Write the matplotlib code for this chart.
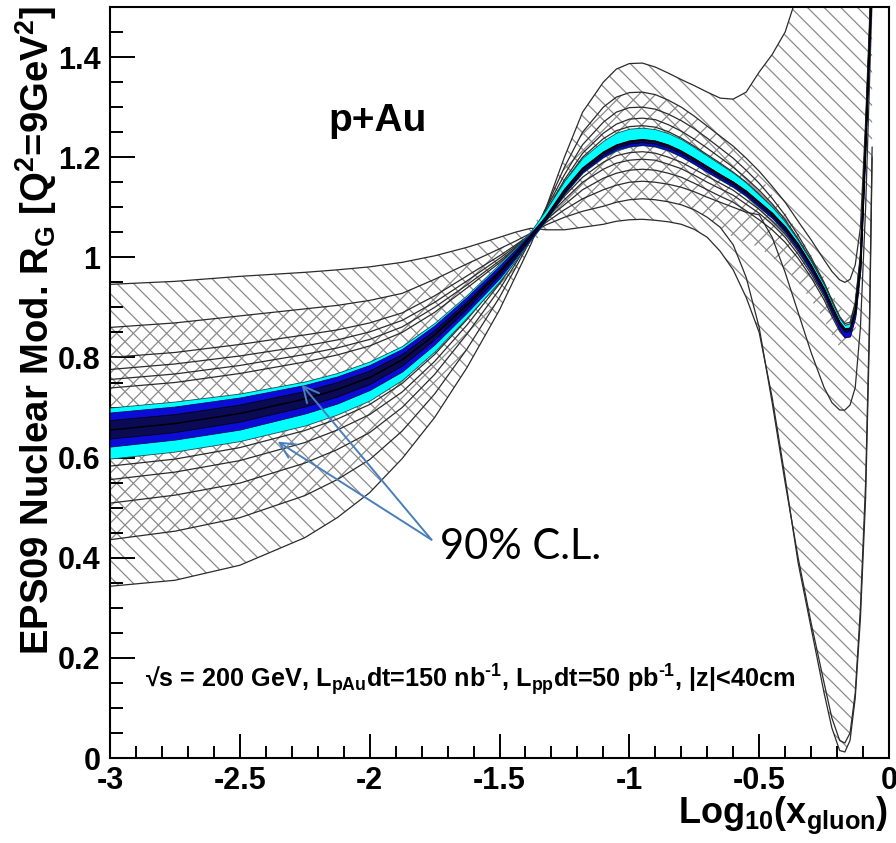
import numpy as np
import matplotlib
matplotlib.use("Agg")
import matplotlib.pyplot as plt
from matplotlib.ticker import MultipleLocator, FormatStrFormatter

# ---------------- data ----------------
# log10(x_gluon) sample points: 12 on the shadowing side, 30 on the antishadowing/EMC side
x_log10 = [-3.0, -2.75, -2.5, -2.25, -2.125, -2.0, -1.875, -1.75, -1.625, -1.5, -1.44, -1.38,
           -1.32, -1.25, -1.18, -1.1, -1.05, -1.0, -0.95, -0.9, -0.85, -0.8,
           -0.75, -0.7, -0.65, -0.6, -0.55, -0.5, -0.45, -0.4, -0.35, -0.3,
           -0.25, -0.22, -0.19, -0.17, -0.15, -0.13, -0.11, -0.09, -0.075, -0.065]

# EPS09 error-set curves (black lines)
eps09_set01 = [0.946, 0.952, 0.962, 0.970, 0.975, 0.981, 0.990, 1.003, 1.020, 1.040, 1.050, 1.058,
               1.055, 1.055, 1.060, 1.066, 1.072, 1.075, 1.076, 1.074, 1.071, 1.066,
               1.056, 1.040, 1.012, 0.975, 0.920, 0.850, 0.720, 0.560, 0.390, 0.260,
               0.130, 0.060, 0.015, 0.012, 0.035, 0.120, 0.280, 0.520, 0.850, 1.200]
eps09_set02 = [0.860, 0.869, 0.883, 0.897, 0.904, 0.914, 0.928, 0.956, 0.987, 1.017, 1.032, 1.048,
               1.065, 1.080, 1.092, 1.102, 1.110, 1.115, 1.117, 1.115, 1.111, 1.105,
               1.095, 1.080, 1.060, 1.025, 0.960, 0.860, 0.710, 0.550, 0.400, 0.270,
               0.150, 0.080, 0.035, 0.030, 0.050, 0.130, 0.300, 0.550, 0.880, 1.220]
eps09_set03 = [0.800, 0.810, 0.826, 0.845, 0.855, 0.869, 0.889, 0.923, 0.963, 1.003, 1.024, 1.046,
               1.070, 1.095, 1.117, 1.135, 1.144, 1.150, 1.152, 1.150, 1.146, 1.140,
               1.131, 1.120, 1.110, 1.100, 1.090, 1.085, 1.040, 0.970, 0.890, 0.810,
               0.740, 0.710, 0.695, 0.695, 0.705, 0.740, 0.860, 1.100, 1.350, 1.520]
eps09_set04 = [0.776, 0.787, 0.803, 0.823, 0.835, 0.851, 0.874, 0.910, 0.953, 0.998, 1.021, 1.046,
               1.075, 1.105, 1.135, 1.158, 1.168, 1.174, 1.176, 1.174, 1.168, 1.160,
               1.148, 1.135, 1.122, 1.110, 1.093, 1.075, 1.055, 1.030, 0.998, 0.960,
               0.915, 0.882, 0.852, 0.840, 0.843, 0.880, 0.975, 1.225, 1.430, 1.570]
eps09_set05 = [0.756, 0.767, 0.784, 0.806, 0.819, 0.836, 0.861, 0.900, 0.945, 0.993, 1.018, 1.045,
               1.078, 1.115, 1.150, 1.176, 1.188, 1.194, 1.196, 1.194, 1.186, 1.177,
               1.164, 1.150, 1.137, 1.124, 1.106, 1.088, 1.066, 1.040, 1.006, 0.967,
               0.922, 0.888, 0.857, 0.845, 0.848, 0.886, 0.980, 1.230, 1.435, 1.575]
eps09_set06 = [0.739, 0.750, 0.768, 0.791, 0.805, 0.823, 0.850, 0.890, 0.939, 0.989, 1.016, 1.045,
               1.080, 1.122, 1.160, 1.190, 1.203, 1.209, 1.211, 1.208, 1.200, 1.190,
               1.176, 1.162, 1.148, 1.134, 1.115, 1.096, 1.073, 1.047, 1.012, 0.972,
               0.927, 0.893, 0.861, 0.849, 0.852, 0.890, 0.985, 1.235, 1.438, 1.578]
eps09_set07 = [0.583, 0.597, 0.620, 0.654, 0.677, 0.706, 0.748, 0.806, 0.876, 0.953, 0.996, 1.040,
               1.090, 1.150, 1.200, 1.237, 1.253, 1.261, 1.263, 1.260, 1.251, 1.238,
               1.222, 1.205, 1.188, 1.170, 1.150, 1.126, 1.100, 1.070, 1.032, 0.990,
               0.942, 0.907, 0.874, 0.860, 0.862, 0.900, 0.995, 1.245, 1.445, 1.585]
eps09_set08 = [0.556, 0.571, 0.594, 0.630, 0.655, 0.686, 0.731, 0.792, 0.865, 0.947, 0.992, 1.039,
               1.092, 1.155, 1.208, 1.248, 1.266, 1.276, 1.278, 1.275, 1.265, 1.252,
               1.236, 1.218, 1.199, 1.180, 1.158, 1.134, 1.107, 1.075, 1.037, 0.995,
               0.946, 0.911, 0.878, 0.864, 0.866, 0.905, 1.000, 1.250, 1.450, 1.590]
eps09_set09 = [0.509, 0.525, 0.549, 0.589, 0.616, 0.650, 0.700, 0.766, 0.847, 0.936, 0.986, 1.038,
               1.097, 1.165, 1.225, 1.270, 1.290, 1.299, 1.300, 1.296, 1.286, 1.273,
               1.257, 1.238, 1.218, 1.198, 1.174, 1.148, 1.118, 1.084, 1.044, 1.000,
               0.950, 0.915, 0.882, 0.868, 0.870, 0.910, 1.005, 1.255, 1.455, 1.595]
eps09_set10 = [0.436, 0.453, 0.480, 0.524, 0.556, 0.596, 0.653, 0.727, 0.817, 0.920, 0.977, 1.035,
               1.100, 1.180, 1.250, 1.300, 1.320, 1.329, 1.330, 1.325, 1.314, 1.300,
               1.282, 1.262, 1.242, 1.222, 1.198, 1.172, 1.142, 1.110, 1.072, 1.035,
               0.995, 0.972, 0.955, 0.950, 0.956, 0.985, 1.060, 1.270, 1.470, 1.620]
eps09_set11 = [0.343, 0.355, 0.385, 0.440, 0.480, 0.530, 0.598, 0.680, 0.780, 0.895, 0.960, 1.025,
               1.100, 1.200, 1.290, 1.350, 1.376, 1.387, 1.388, 1.380, 1.368, 1.355,
               1.343, 1.330, 1.318, 1.316, 1.330, 1.370, 1.405, 1.450, 1.530, 1.620,
               1.750, 1.820, 1.900, 1.950, 2.000, 2.050, 2.100, 2.200, 2.300, 2.400]
eps09_central = [0.655, 0.668, 0.688, 0.717, 0.736, 0.760, 0.795, 0.845, 0.905, 0.970, 1.005, 1.042,
                 1.082, 1.135, 1.178, 1.210, 1.224, 1.232, 1.235, 1.232, 1.224, 1.212,
                 1.197, 1.181, 1.165, 1.150, 1.132, 1.110, 1.088, 1.060, 1.024, 0.982,
                 0.935, 0.900, 0.868, 0.855, 0.857, 0.895, 0.990, 1.240, 1.440, 1.580]

# inner (cross-hatched) band
inner_hi = [0.860, 0.869, 0.883, 0.897, 0.904, 0.914, 0.928, 0.956, 0.987, 1.017, 1.032, 1.048,
            1.100, 1.180, 1.250, 1.300, 1.320, 1.329, 1.330, 1.325, 1.314, 1.300,
            1.282, 1.262, 1.242, 1.222, 1.198, 1.165, 1.125, 1.090, 1.050, 1.005,
            0.960, 0.930, 0.900, 0.890, 0.890, 0.925, 1.020, 1.265, 1.465, 1.605]
inner_lo = [0.436, 0.453, 0.480, 0.524, 0.556, 0.596, 0.653, 0.727, 0.817, 0.920, 0.977, 1.035,
            1.065, 1.080, 1.092, 1.102, 1.110, 1.115, 1.117, 1.115, 1.111, 1.105,
            1.095, 1.080, 1.060, 1.040, 1.030, 1.020, 1.000, 0.980, 0.950, 0.915,
            0.875, 0.845, 0.820, 0.810, 0.815, 0.850, 0.945, 1.190, 1.400, 1.550]

# projected 90% C.L. bands
cyan_hi = [0.700, 0.712, 0.728, 0.752, 0.769, 0.792, 0.823, 0.869, 0.925, 0.987, 1.018, 1.052,
           1.096, 1.153, 1.199, 1.233, 1.249, 1.257, 1.259, 1.256, 1.248, 1.236,
           1.220, 1.203, 1.186, 1.169, 1.149, 1.125, 1.101, 1.071, 1.034, 0.992,
           0.945, 0.910, 0.878, 0.865, 0.868, 0.907, 1.005, 1.260, 1.460, 1.600]
cyan_lo = [0.598, 0.612, 0.633, 0.664, 0.686, 0.714, 0.755, 0.812, 0.880, 0.952, 0.993, 1.034,
           1.074, 1.127, 1.169, 1.200, 1.213, 1.221, 1.224, 1.221, 1.213, 1.201,
           1.186, 1.170, 1.155, 1.140, 1.122, 1.100, 1.078, 1.050, 1.014, 0.972,
           0.925, 0.890, 0.858, 0.845, 0.847, 0.885, 0.978, 1.225, 1.425, 1.565]
blue_hi = [0.690, 0.702, 0.720, 0.745, 0.762, 0.785, 0.817, 0.864, 0.921, 0.983, 1.015, 1.049,
           1.083, 1.136, 1.179, 1.211, 1.225, 1.233, 1.236, 1.233, 1.225, 1.213,
           1.198, 1.182, 1.166, 1.151, 1.133, 1.111, 1.089, 1.062, 1.027, 0.985,
           0.938, 0.903, 0.871, 0.858, 0.860, 0.898, 0.993, 1.243, 1.443, 1.583]
blue_lo = [0.622, 0.636, 0.656, 0.688, 0.708, 0.735, 0.772, 0.826, 0.890, 0.958, 0.997, 1.036,
           1.076, 1.128, 1.170, 1.201, 1.215, 1.222, 1.225, 1.222, 1.214, 1.202,
           1.187, 1.171, 1.156, 1.141, 1.123, 1.101, 1.079, 1.051, 1.015, 0.973,
           0.926, 0.889, 0.855, 0.840, 0.842, 0.880, 0.975, 1.222, 1.422, 1.562]
core_hi = [0.675, 0.687, 0.706, 0.733, 0.751, 0.774, 0.807, 0.855, 0.913, 0.976, 1.010, 1.046,
           1.082, 1.135, 1.178, 1.210, 1.224, 1.232, 1.235, 1.232, 1.224, 1.212,
           1.197, 1.181, 1.165, 1.150, 1.132, 1.110, 1.088, 1.060, 1.027, 0.985,
           0.938, 0.903, 0.871, 0.858, 0.860, 0.898, 0.994, 1.245, 1.445, 1.585]
core_lo = [0.638, 0.651, 0.672, 0.702, 0.722, 0.747, 0.784, 0.836, 0.898, 0.965, 1.001, 1.039,
           1.077, 1.130, 1.173, 1.205, 1.219, 1.227, 1.230, 1.227, 1.219, 1.207,
           1.192, 1.176, 1.160, 1.145, 1.127, 1.105, 1.083, 1.055, 1.021, 0.979,
           0.932, 0.896, 0.864, 0.851, 0.853, 0.891, 0.985, 1.235, 1.435, 1.575]

# annotation arrow tips / start (data coordinates)
cl_arrow_tips = [(-2.262, 0.746), (-2.354, 0.632)]
cl_arrow_start = (-1.762, 0.436)

x_ticks = [-3, -2.5, -2, -1.5, -1, -0.5, 0]
y_ticks = [0, 0.2, 0.4, 0.6, 0.8, 1.0, 1.2, 1.4]

# ---------------- style ----------------
plt.rcParams['font.family'] = ['Liberation Sans', 'DejaVu Sans']
plt.rcParams['font.weight'] = 'bold'
plt.rcParams['mathtext.fontset'] = 'custom'
plt.rcParams['mathtext.rm'] = 'Liberation Sans:bold'
plt.rcParams['mathtext.it'] = 'Liberation Sans:bold'
plt.rcParams['mathtext.bf'] = 'Liberation Sans:bold'
plt.rcParams['mathtext.sf'] = 'Liberation Sans:bold'
plt.rcParams['axes.unicode_minus'] = False
plt.rcParams['hatch.linewidth'] = 0.9
plt.rcParams['hatch.color'] = '#8a8a8a'

fig = plt.figure(figsize=(8.96, 8.43), dpi=100)
ax = fig.add_axes([110 / 896, 85 / 843, 779 / 896, 751 / 843])

X = np.array(x_log10)
curves = np.array([eps09_set01, eps09_set02, eps09_set03, eps09_set04, eps09_set05,
                   eps09_set06, eps09_set07, eps09_set08, eps09_set09, eps09_set10,
                   eps09_set11])
outer_hi = curves.max(axis=0)
outer_lo = curves.min(axis=0)

ax.fill_between(X, outer_lo, outer_hi, facecolor='none', edgecolor='#8a8a8a',
                hatch='\\\\', linewidth=0, zorder=1)
ax.fill_between(X, inner_lo, inner_hi, facecolor='none', edgecolor='#8a8a8a',
                hatch='//', linewidth=0, zorder=1)

for c in curves:
    ax.plot(X, c, color='#2b2b2b', lw=0.9, zorder=2)
ax.plot(X, eps09_central, color='#2b2b2b', lw=0.9, zorder=2)

ax.fill_between(X, cyan_lo, cyan_hi, facecolor='#00ffff', edgecolor='#1a4d4d',
                linewidth=0.6, zorder=3)
ax.fill_between(X, blue_lo, blue_hi, facecolor='#0c0cd8', edgecolor='#050560',
                linewidth=0.6, zorder=4)
ax.fill_between(X, core_lo, core_hi, facecolor='#0a0a55', edgecolor='#000000',
                linewidth=0.5, zorder=5)
ax.plot(X, eps09_central, color='#000000', lw=1.0, zorder=6)

ax.set_xlim(-3, 0)
ax.set_ylim(0, 1.5)

ax.xaxis.set_minor_locator(MultipleLocator(0.1))
ax.yaxis.set_minor_locator(MultipleLocator(0.05))
ax.set_xticks(x_ticks)
ax.set_yticks(y_ticks)
ax.xaxis.set_major_formatter(FormatStrFormatter('%g'))
ax.yaxis.set_major_formatter(FormatStrFormatter('%g'))

ax.tick_params(which='both', direction='in', top=False, right=False, width=1.4,
               labelsize=22)
ax.tick_params(axis='y', which='major', length=18, pad=7)
ax.tick_params(axis='y', which='minor', length=9.5)
ax.tick_params(axis='x', which='major', length=17, pad=6)
ax.tick_params(axis='x', which='minor', length=8.5)
for lab in ax.get_xticklabels() + ax.get_yticklabels():
    lab.set_fontweight('bold')
for sp in ax.spines.values():
    sp.set_linewidth(1.5)

# axis titles (ROOT style, aligned at axis ends)
fig.text(36 / 896, 1 - 6 / 843, r'EPS09 Nuclear Mod. R$_{G}$ [Q$^{2}$=9GeV$^{2}$]',
         rotation=90, ha='center', va='top', fontsize=27.5, fontweight='bold')
fig.text(888 / 896, 1 - 823 / 843, r'Log$_{10}$(x$_{gluon}$)', ha='right',
         va='baseline', fontsize=26, fontweight='bold')

ax.text(-1.969, 1.252, 'p+Au', ha='center', va='baseline', fontsize=28, fontweight='bold')
ax.text(-2.865, 0.156,
        r'√s = 200 GeV, L$_{pAu}$dt=150 nb$^{\text{-1}}$, L$_{pp}$dt=50 pb$^{\text{-1}}$, |z|<40cm',
        ha='left', va='center', fontsize=18.2, fontweight='bold')

for tip in cl_arrow_tips:
    ax.annotate('', xy=tip, xytext=cl_arrow_start,
                arrowprops=dict(arrowstyle='->', color='#4a7ebb', lw=1.4,
                                mutation_scale=28, shrinkA=0, shrinkB=0), zorder=8)
ax.text(-1.73, 0.422, '90% C.L.', ha='left', va='center', fontsize=30,
        fontweight='normal', family=['Lato', 'DejaVu Sans'], zorder=8)

fig.savefig('out.png', dpi=100)
